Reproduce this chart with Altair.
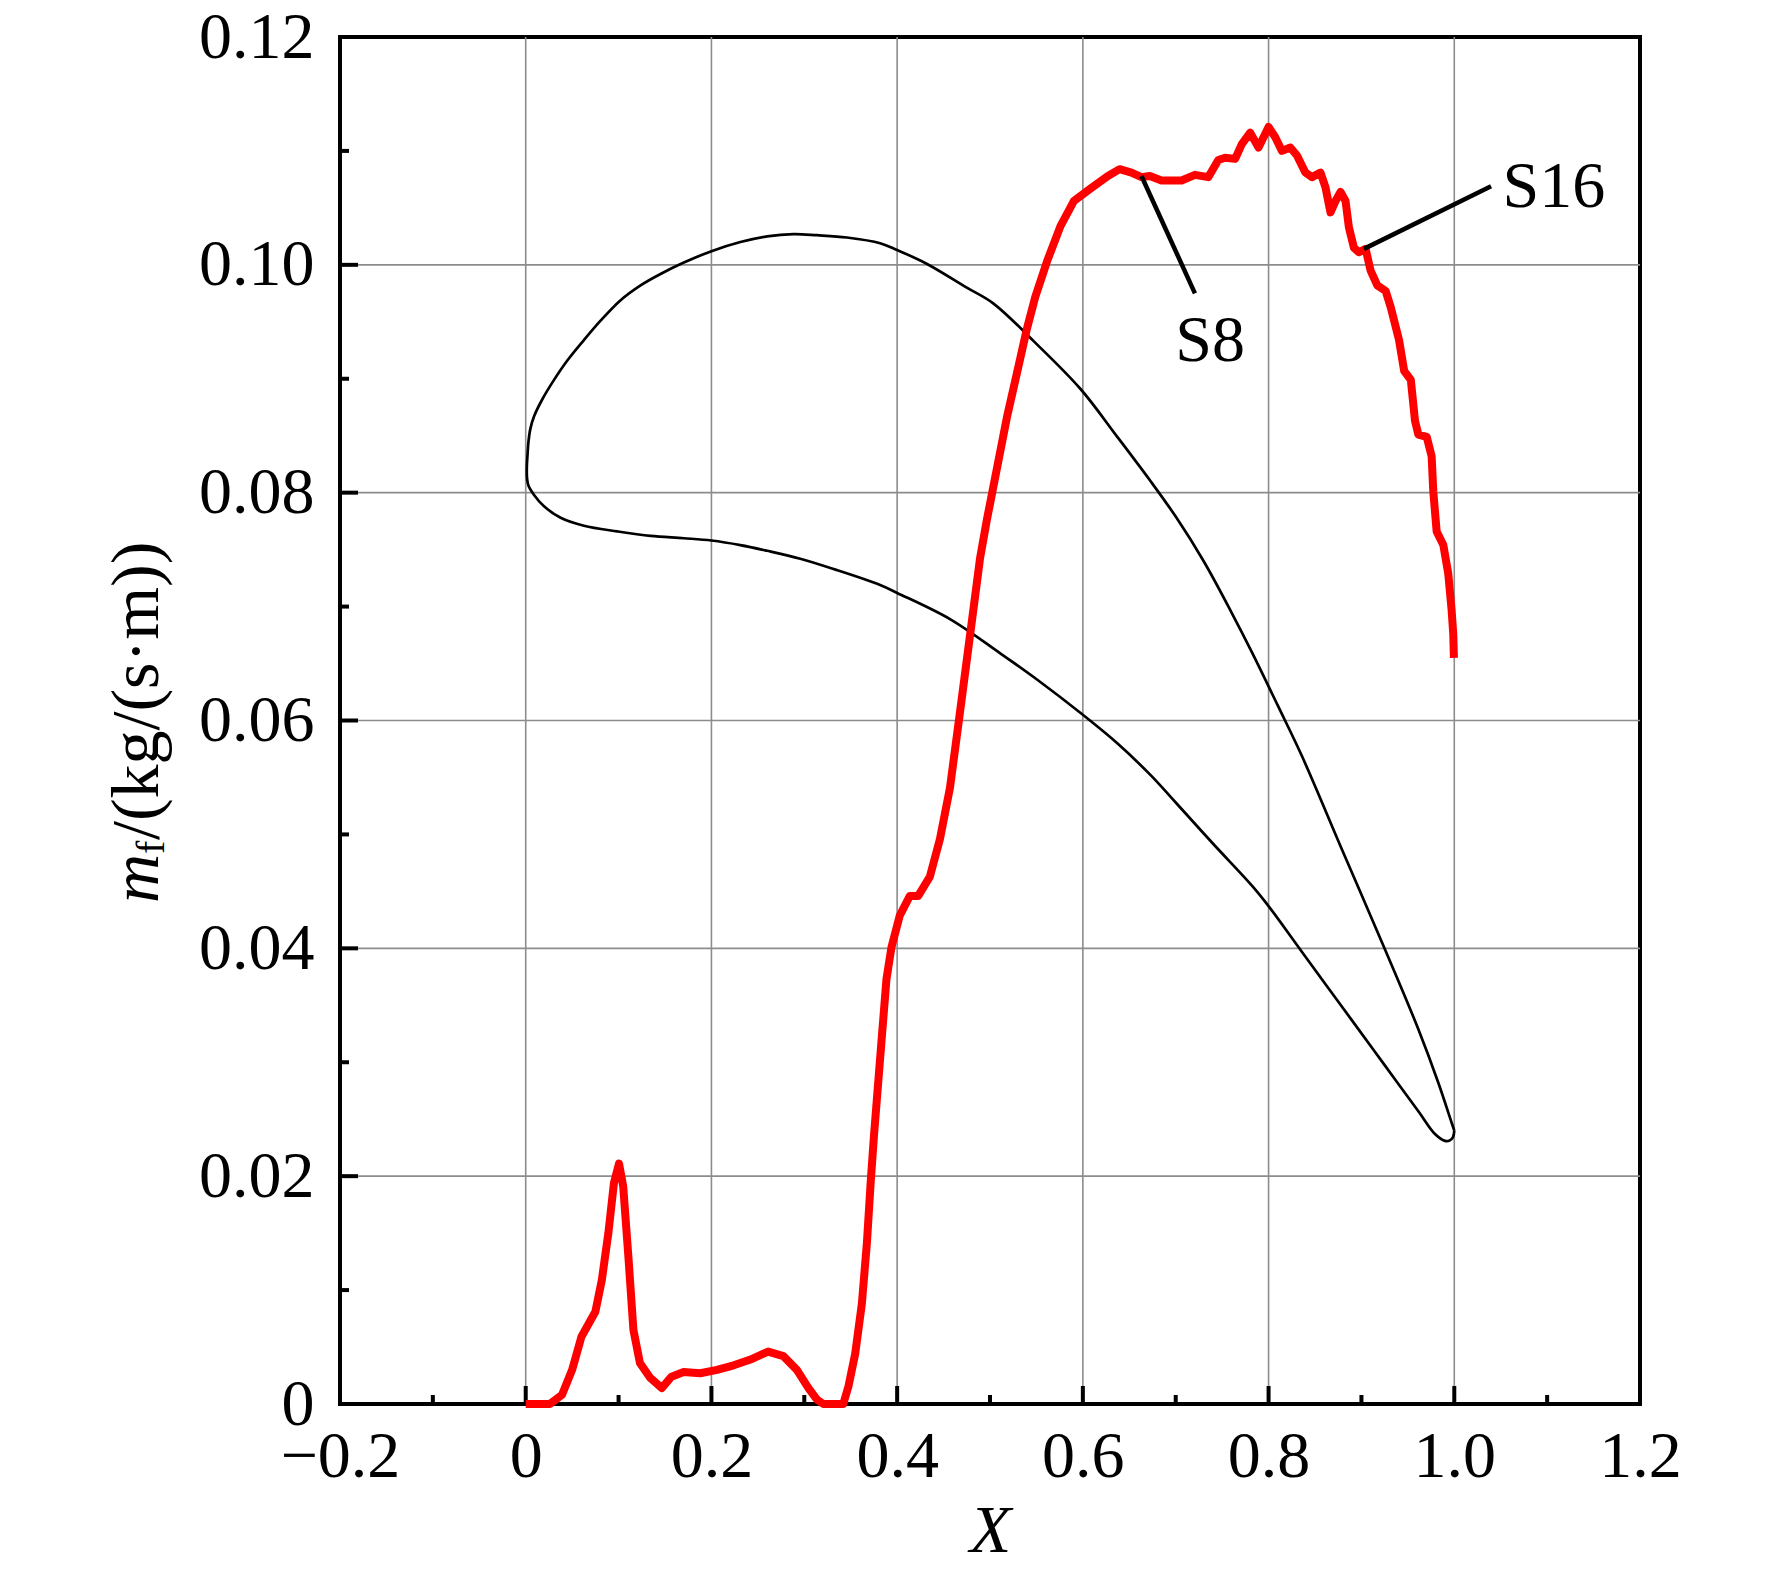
import altair as alt
import pandas as pd

# ---------------- data ----------------
red_x = [0.000, 0.026, 0.039, 0.050, 0.060, 0.075, 0.082, 0.089, 0.095, 0.1005,
         0.105, 0.1106, 0.116, 0.123, 0.134, 0.1465, 0.157, 0.170, 0.188, 0.206,
         0.224, 0.242, 0.261, 0.2775, 0.292, 0.3045, 0.3135, 0.3206, 0.342, 0.3477,
         0.3548, 0.362, 0.3674, 0.3717, 0.375, 0.383, 0.3885, 0.3939, 0.4029, 0.4137,
         0.4227, 0.4353, 0.4461, 0.4569, 0.466, 0.475, 0.4822, 0.4894, 0.4966, 0.5074,
         0.5182, 0.529, 0.5398, 0.5488, 0.5614, 0.5759, 0.5903, 0.6083, 0.627, 0.6396,
         0.6523, 0.6631, 0.6721, 0.6847, 0.7063, 0.7207, 0.7351, 0.7459, 0.7532, 0.764,
         0.7712, 0.7802, 0.7892, 0.7946, 0.800, 0.8072, 0.8144, 0.8234, 0.8306, 0.8396,
         0.8468, 0.8559, 0.8613, 0.8667, 0.8721, 0.8775, 0.8829, 0.8865, 0.8919, 0.8973,
         0.9045, 0.9099, 0.9171, 0.9261, 0.9315, 0.9405, 0.946, 0.9532, 0.9577, 0.9613,
         0.9703, 0.9756, 0.9774, 0.981, 0.9882, 0.9935, 0.9971, 0.9989, 0.9996]
red_y = [0.0000, 0.0000, 0.0008, 0.0030, 0.0059, 0.0081, 0.0109, 0.0150, 0.0194, 0.0211,
         0.0191, 0.0129, 0.0065, 0.0036, 0.0023, 0.0014, 0.0024, 0.0028, 0.0027, 0.0030,
         0.0034, 0.0039, 0.0046, 0.0042, 0.0030, 0.0014, 0.0004, 0.0000, 0.0000, 0.0016,
         0.0044, 0.0088, 0.0141, 0.0197, 0.0235, 0.0317, 0.0373, 0.0401, 0.0429, 0.0446,
         0.0446, 0.0463, 0.0496, 0.0541, 0.0597, 0.0653, 0.0698, 0.0743, 0.0776, 0.0821,
         0.0866, 0.0905, 0.0944, 0.0972, 0.1003, 0.1034, 0.1056, 0.1067, 0.1078, 0.1084,
         0.1081, 0.1077, 0.1078, 0.1074, 0.1074, 0.1079, 0.1077, 0.1092, 0.1094, 0.1093,
         0.1106, 0.1116, 0.1103, 0.1112, 0.1121, 0.1112, 0.1100, 0.1103, 0.1096, 0.1081,
         0.1077, 0.1081, 0.1068, 0.1046, 0.1056, 0.1064, 0.1056, 0.1033, 0.1015, 0.1011,
         0.1014, 0.0995, 0.0982, 0.0977, 0.0963, 0.0934, 0.0907, 0.0899, 0.0863, 0.0851,
         0.0849, 0.0832, 0.0801, 0.0766, 0.0754, 0.0729, 0.0697, 0.0676, 0.0655]

# blade profile (closed loop: trailing edge -> upper side -> leading edge -> lower side -> TE)
blade_x = [1.0, 0.9971, 0.9828, 0.9613, 0.9254, 0.8789, 0.8358, 0.81, 0.782, 0.76,
           0.73, 0.70, 0.673, 0.6371, 0.5975, 0.547, 0.5038, 0.475, 0.4317, 0.4,
           0.3817, 0.3459, 0.3136, 0.2885, 0.2599, 0.2312, 0.2, 0.1703, 0.1452, 0.1237,
           0.1022, 0.0806, 0.0627, 0.0448, 0.0305, 0.0179, 0.009, 0.0050, 0.0030, 0.0020,
           0.0012, 0.0014, 0.0030, 0.009, 0.0197, 0.0376, 0.0627, 0.0986, 0.1344, 0.1703,
           0.2, 0.2312, 0.2599, 0.2957, 0.3315, 0.3817, 0.4, 0.4569, 0.511, 0.5506,
           0.6, 0.6371, 0.673, 0.70, 0.74, 0.7821, 0.8, 0.8358, 0.8896, 0.9254,
           0.9613, 0.9792, 0.99, 0.9945, 0.9985, 1.0]
blade_y = [0.0240, 0.0247, 0.0282, 0.0329, 0.0399, 0.0487, 0.0569, 0.0613, 0.0660, 0.0695,
           0.0740, 0.0779, 0.0810, 0.0849, 0.0891, 0.0933, 0.0966, 0.0980, 0.1001, 0.1013,
           0.1019, 0.1024, 0.1026, 0.1027, 0.1025, 0.1020, 0.1012, 0.1002, 0.0992, 0.0982,
           0.0969, 0.0951, 0.0934, 0.0916, 0.0899, 0.0882, 0.0867, 0.0856, 0.0845, 0.0834,
           0.0822, 0.0813, 0.0806, 0.0798, 0.0788, 0.0778, 0.0771, 0.0766, 0.0762, 0.0760,
           0.0758, 0.0754, 0.0749, 0.0742, 0.0733, 0.0719, 0.0712, 0.0689, 0.0659, 0.0636,
           0.0605, 0.0580, 0.0552, 0.0528, 0.0492, 0.0455, 0.0437, 0.0397, 0.0337, 0.0297,
           0.0257, 0.0237, 0.0231, 0.0231, 0.0234, 0.0240]

# annotations
label_text = ["S8", "S16"]
label_x = [0.737, 1.052]
label_y = [0.0916, 0.1051]
leader_x0 = [0.6631, 0.9027]
leader_y0 = [0.1078, 0.1014]
leader_x1 = [0.7207, 1.0396]
leader_y1 = [0.0975, 0.1069]

# axes
x_major = [-0.2, 0.0, 0.2, 0.4, 0.6, 0.8, 1.0, 1.2]
x_minor = [-0.1, 0.1, 0.3, 0.5, 0.7, 0.9, 1.1]
y_major = [0.0, 0.02, 0.04, 0.06, 0.08, 0.10, 0.12]
y_minor = [0.01, 0.03, 0.05, 0.07, 0.09, 0.11]
x_grid = [0.0, 0.2, 0.4, 0.6, 0.8, 1.0]
y_grid = [0.02, 0.04, 0.06, 0.08, 0.10]
x_title = "X"
y_title_parts = ["m", "f", "/(kg/(s\u00b7m))"]

# ---------------- chart ----------------
W, H = 1300, 1367
FONT = "Liberation Serif"

red_df = pd.DataFrame({"x": red_x, "y": red_y, "i": range(len(red_x))})
blade_df = pd.DataFrame({"x": blade_x, "y": blade_y, "i": range(len(blade_x))})
lab_df = pd.DataFrame({"x": label_x, "y": label_y, "t": label_text})
lead_df = pd.DataFrame({"x": leader_x0, "y": leader_y0, "x2": leader_x1, "y2": leader_y1})

xscale = alt.Scale(domain=[-0.2, 1.2], nice=False, zero=False)
yscale = alt.Scale(domain=[0, 0.12], nice=False, zero=False)

x_axis = alt.Axis(
    values=x_major,
    labelExpr="datum.value == 0 ? '0' : replace(format(datum.value, '.1f'), '-', '\u2212')",
    title=x_title, grid=False, ticks=False, tickSize=0, domain=False,
    labelFont=FONT, labelFontSize=66, labelColor="black", labelPadding=20,
    labelFlush=False, labelOverlap=False,
    titleFont=FONT, titleFontSize=68, titleFontStyle="italic", titleFontWeight="normal",
    titleColor="black", titlePadding=8,
)
y_axis = alt.Axis(
    values=y_major,
    labelExpr="datum.value == 0 ? '0' : format(datum.value, '.2f')",
    title="", grid=False, ticks=False, tickSize=0, domain=False,
    labelFont=FONT, labelFontSize=66, labelColor="black", labelPadding=26,
    labelFlush=False, labelOverlap=False,
)

X = alt.X("x:Q", scale=xscale, axis=x_axis)
Y = alt.Y("y:Q", scale=yscale, axis=y_axis)

gridx = alt.Chart(pd.DataFrame({"x": x_grid})).mark_rule(color="#8c8c8c", strokeWidth=1.6).encode(x=X)
gridy = alt.Chart(pd.DataFrame({"y": y_grid})).mark_rule(color="#8c8c8c", strokeWidth=1.6).encode(y=Y)

tick_style = dict(color="black", strokeWidth=4)
tx_major = alt.Chart(pd.DataFrame({"x": x_major})).mark_rule(**tick_style).encode(
    x=X, y=alt.value(H), y2=alt.value(H - 18))
tx_minor = alt.Chart(pd.DataFrame({"x": x_minor})).mark_rule(**tick_style).encode(
    x=X, y=alt.value(H), y2=alt.value(H - 9))
ty_major = alt.Chart(pd.DataFrame({"y": y_major})).mark_rule(**tick_style).encode(
    y=Y, x=alt.value(0), x2=alt.value(18))
ty_minor = alt.Chart(pd.DataFrame({"y": y_minor})).mark_rule(**tick_style).encode(
    y=Y, x=alt.value(0), x2=alt.value(9))

blade = alt.Chart(blade_df).mark_line(color="black", strokeWidth=2.7, strokeJoin="round",
                                      interpolate="catmull-rom").encode(
    x=X, y=Y, order="i:Q")
red = alt.Chart(red_df).mark_line(color="#ff0000", strokeWidth=8, strokeJoin="round").encode(
    x=X, y=Y, order="i:Q")

leaders = alt.Chart(lead_df).mark_rule(color="black", strokeWidth=4.5).encode(
    x=X, y=Y, x2="x2:Q", y2="y2:Q")

lab_s8 = alt.Chart(lab_df.iloc[[0]]).mark_text(
    font=FONT, fontSize=66, color="black", align="center", baseline="alphabetic").encode(
    x=X, y=Y, text="t:N")
lab_s16 = alt.Chart(lab_df.iloc[[1]]).mark_text(
    font=FONT, fontSize=66, color="black", align="left", baseline="alphabetic").encode(
    x=X, y=Y, text="t:N")

yt_df = pd.DataFrame({"t": y_title_parts})
yt_m = alt.Chart(yt_df.iloc[[0]]).mark_text(
    font=FONT, fontSize=68, fontStyle="italic", color="black", angle=270,
    align="left", baseline="alphabetic").encode(
    x=alt.value(-182), y=alt.value(866), text="t:N")
yt_f = alt.Chart(yt_df.iloc[[1]]).mark_text(
    font=FONT, fontSize=40, color="black", angle=270,
    align="left", baseline="alphabetic").encode(
    x=alt.value(-176), y=alt.value(817), text="t:N")
yt_rest = alt.Chart(yt_df.iloc[[2]]).mark_text(
    font=FONT, fontSize=68, color="black", angle=270,
    align="left", baseline="alphabetic").encode(
    x=alt.value(-182), y=alt.value(803), text="t:N")

chart = alt.layer(
    gridx, gridy, tx_major, tx_minor, ty_major, ty_minor,
    blade, red, leaders, lab_s8, lab_s16, yt_m, yt_f, yt_rest,
).properties(
    width=W, height=H,
    autosize=alt.AutoSizeParams(type="none"),
    padding={"left": 332, "top": 29, "right": 124, "bottom": 170},
    background="white",
).configure_view(stroke="black", strokeWidth=4)

chart.save("out.html", embed_options={"renderer": "svg", "actions": False})
